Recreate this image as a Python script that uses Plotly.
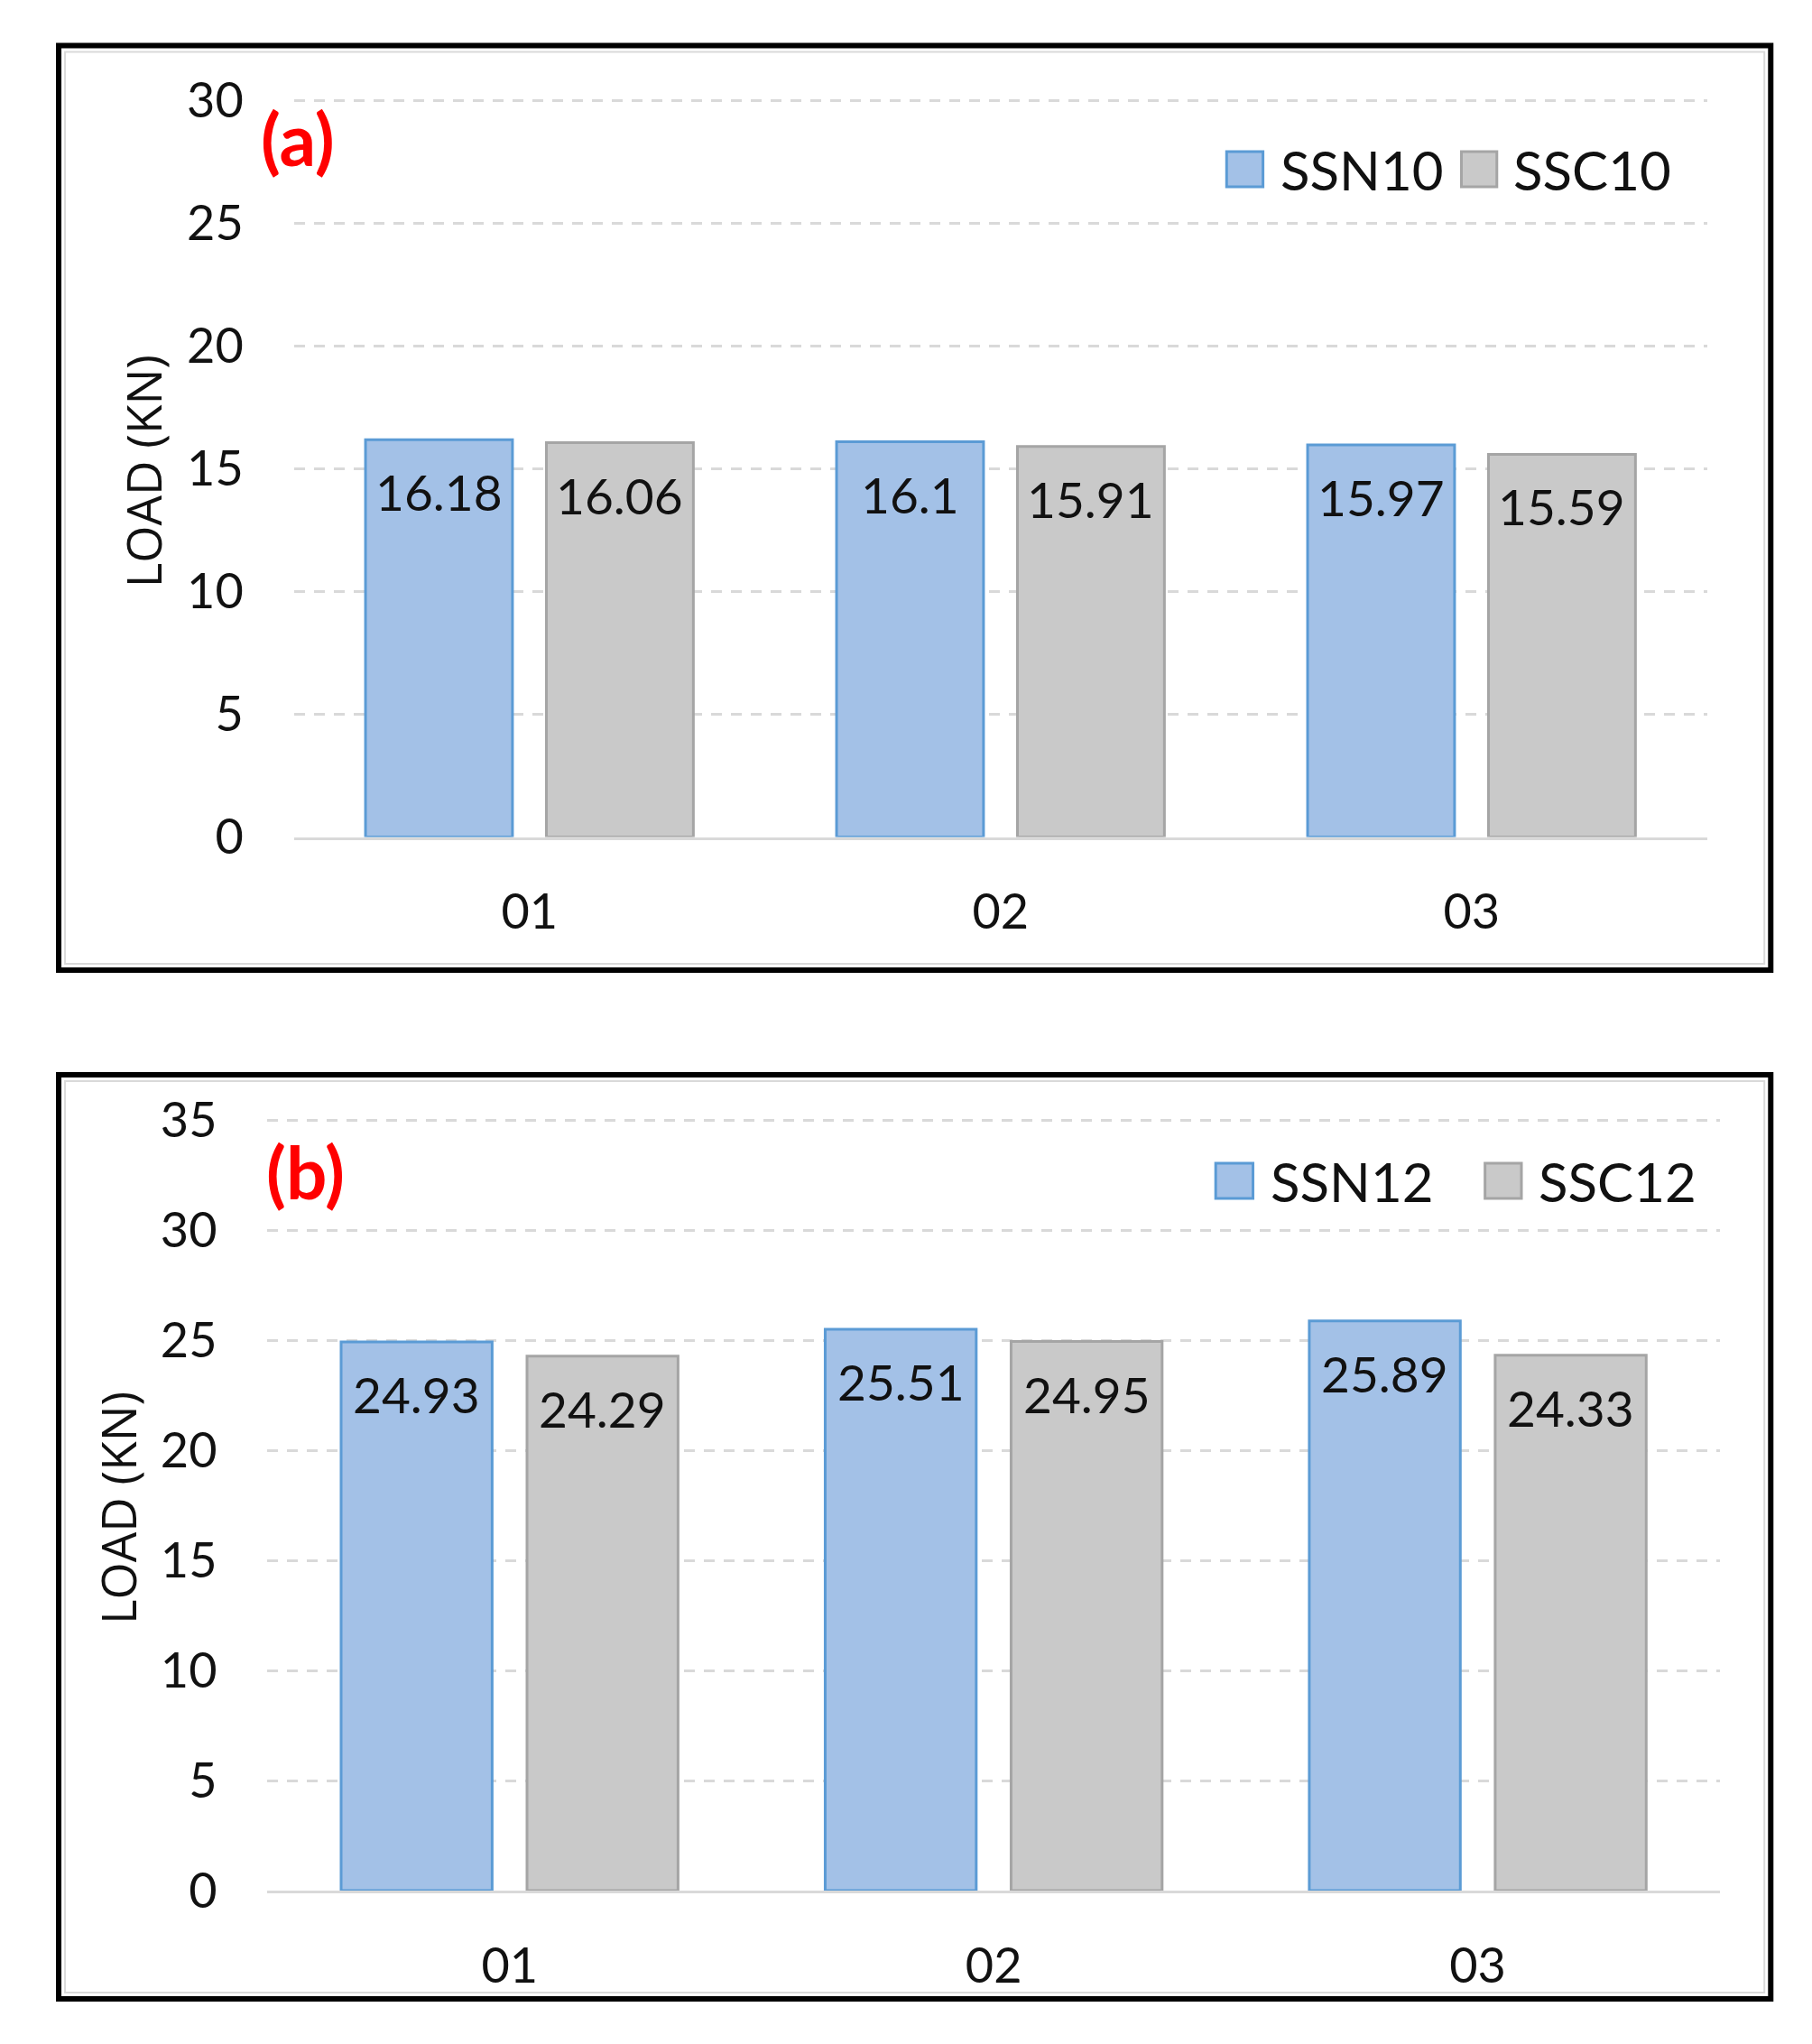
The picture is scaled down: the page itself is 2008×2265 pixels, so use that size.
import plotly.graph_objects as go

# ---------------- data ----------------
categories = ["01", "02", "03"]
ssn10 = [16.18, 16.1, 15.97]
ssc10 = [16.06, 15.91, 15.59]
ssn12 = [24.93, 25.51, 25.89]
ssc12 = [24.29, 24.95, 24.33]
series_a = ["SSN10", "SSC10"]
series_b = ["SSN12", "SSC12"]
yticks_a = [0, 5, 10, 15, 20, 25, 30]
yticks_b = [0, 5, 10, 15, 20, 25, 30, 35]
panel_labels = ["(a)", "(b)"]
y_title = "LOAD (KN)"

# ---------------- styles ----------------
W, H = 2008, 2265
PAGE_SHIFT = 8  # compensate for the page's default body margin
XS = 1.00837    # horizontal layout scale correction
BAR_W = 0.312
GAP = 0.072
FILLS = ["#A3C1E7", "#C9C9C9"]
LINES = ["#5B9BD5", "#A5A5A5"]
FONT = "Lato"
TXT = "#111111"


def px(x):
    return (x * XS - PAGE_SHIFT) / W


def py(y):
    return 1 - (y - PAGE_SHIFT) / H


panels = [
    dict(vals=(ssn10, ssc10), names=series_a, ticks=yticks_a, label=panel_labels[0],
         x_l=323, x_r=1876, y0=927.5, ytop=111.4,
         box=(64.5, 50.6, 1946, 1075),
         leg_sq=[(1348, 1388), (1606, 1645)], leg_txt=[1405, 1661], leg_y=(168, 207),
         lab_pos=(327, 153), title_pos=(158, 522)),
    dict(vals=(ssn12, ssc12), names=series_b, ticks=yticks_b, label=panel_labels[1],
         x_l=294, x_r=1890, y0=2095, ytop=1241.5,
         box=(64.5, 1191, 1946, 2215),
         leg_sq=[(1336, 1377), (1632, 1672)], leg_txt=[1394, 1689], leg_y=(1289, 1328),
         lab_pos=(336, 1298), title_pos=(129, 1671)),
]

fig = go.Figure()
shapes = []
annotations = []
layout_axes = {}

for k, p in enumerate(panels):
    suffix = "" if k == 0 else str(k + 1)
    xa, ya = "x" + suffix, "y" + suffix
    top_val = p["ticks"][-1]
    ppu = (p["y0"] - p["ytop"]) / top_val
    ext = 0.1
    plot_top_px = p["ytop"] - ext * ppu

    offsets = [-(BAR_W + GAP / 2), GAP / 2]
    centers = [-(BAR_W + GAP) / 2, (BAR_W + GAP) / 2]
    for s in range(2):
        vals = p["vals"][s]
        fig.add_trace(go.Bar(
            x=categories, y=vals, name=p["names"][s],
            width=BAR_W, offset=offsets[s],
            marker=dict(color=FILLS[s], line=dict(color=LINES[s], width=3)),
            xaxis=xa, yaxis=ya, showlegend=False,
        ))
        for i, v in enumerate(vals):
            annotations.append(dict(
                x=i + centers[s], y=v, xref=xa, yref=ya, text=f"{v:g}",
                showarrow=False, yanchor="middle", xanchor="center", yshift=-58,
                font=dict(family=FONT, size=55, color=TXT),
            ))

    layout_axes["xaxis" + suffix] = dict(
        domain=[px(p["x_l"]), px(p["x_r"])], anchor=ya, type="category",
        range=[-0.5, 2.5], showgrid=False, zeroline=False, automargin=False,
        showline=True, linecolor="#D9D9D9", linewidth=3,
        ticks="", ticklabelstandoff=34,
        tickfont=dict(family=FONT, size=54, color=TXT), fixedrange=True,
    )
    layout_axes["yaxis" + suffix] = dict(
        domain=[py(p["y0"]), py(plot_top_px)], anchor=xa, automargin=False,
        range=[0, top_val + ext], tickvals=p["ticks"],
        showgrid=True, gridcolor="#D9D9D9", gridwidth=3, griddash="12px,10px",
        zeroline=False, showline=False, ticks="", ticklabelstandoff=55,
        tickfont=dict(family=FONT, size=54, color=TXT), fixedrange=True,
    )

    # frame
    bx0, by0, bx1, by1 = p["box"]
    shapes.append(dict(type="rect", xref="paper", yref="paper",
                       x0=px(bx0 + 7), x1=px(bx1 - 7), y0=py(by0 + 7), y1=py(by1 - 7),
                       line=dict(color="#D9D9D9", width=2), layer="below"))
    shapes.append(dict(type="rect", xref="paper", yref="paper",
                       x0=px(bx0), x1=px(bx1), y0=py(by0), y1=py(by1),
                       line=dict(color="black", width=6)))

    # legend
    ly0, ly1 = p["leg_y"]
    for s in range(2):
        sx0, sx1 = p["leg_sq"][s]
        shapes.append(dict(type="rect", xref="paper", yref="paper",
                           x0=px(sx0), x1=px(sx1), y0=py(ly1), y1=py(ly0),
                           fillcolor=FILLS[s], line=dict(color=LINES[s], width=3)))
        annotations.append(dict(
            x=px(p["leg_txt"][s]), y=py((ly0 + ly1) / 2), xref="paper", yref="paper",
            text=p["names"][s], showarrow=False, xanchor="left", yanchor="middle",
            font=dict(family=FONT, size=60, color=TXT),
        ))

    # panel label
    annotations.append(dict(
        x=px(p["lab_pos"][0]), y=py(p["lab_pos"][1]), xref="paper", yref="paper",
        text="<b>" + p["label"] + "</b>", showarrow=False,
        xanchor="center", yanchor="middle",
        font=dict(family=FONT, size=80, color="#FF0000"),
    ))
    # axis title
    annotations.append(dict(
        x=px(p["title_pos"][0]), y=py(p["title_pos"][1]), xref="paper", yref="paper",
        text=y_title, showarrow=False, textangle=-90,
        xanchor="center", yanchor="middle",
        font=dict(family="Open Sans", size=53, color=TXT),
    ))

fig.update_layout(
    template="none",
    width=W, height=H, margin=dict(l=0, r=0, t=0, b=0, pad=0, autoexpand=False),
    paper_bgcolor="white", plot_bgcolor="white",
    barmode="overlay", showlegend=False,
    shapes=shapes, annotations=annotations,
    **layout_axes,
)

fig.write_html("out.html")
